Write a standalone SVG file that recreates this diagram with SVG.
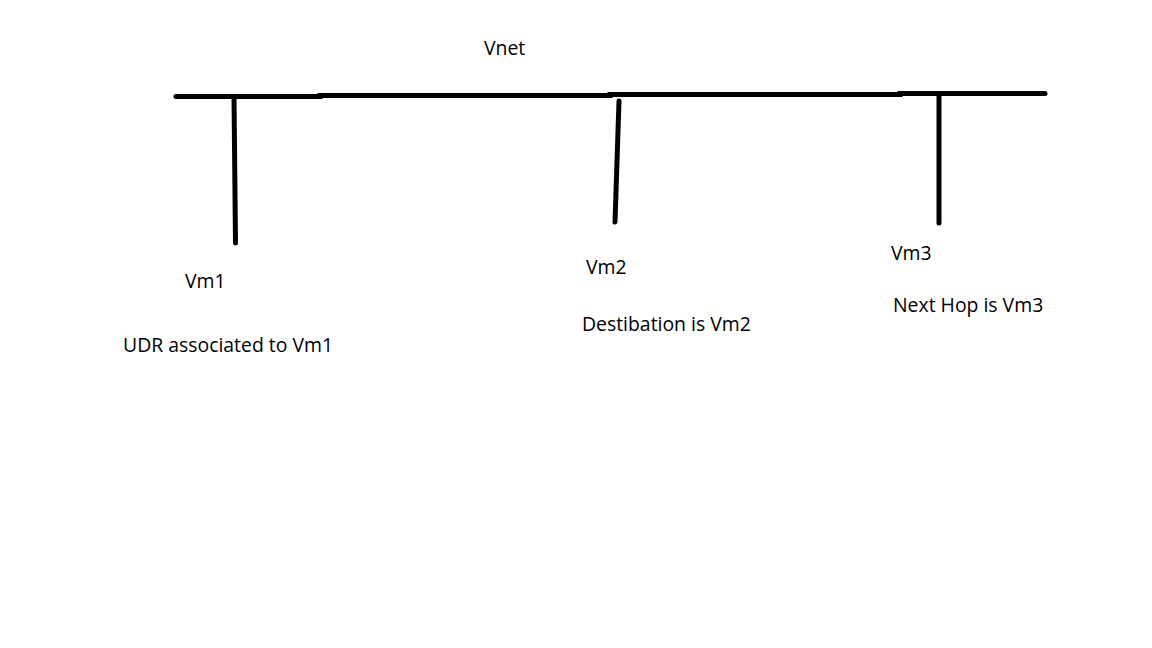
<svg xmlns="http://www.w3.org/2000/svg" width="1152" height="648" viewBox="0 0 1152 648">
<style>
.ln{stroke:#000;stroke-width:5;stroke-linecap:round;fill:none}
.t{font-family:"Open Sans","Noto Sans",sans-serif;font-size:19.4px;fill:#000}
</style>
<rect width="1152" height="648" fill="#fff"/>
<g id="connectors">
<polyline class="ln" points="176,96.5 320,96.5 320,95.5 610,95.5 610,94.5 900,94.5 900,93.5 1045,93.5" stroke-linecap="butt"/>
<line class="ln" x1="234" y1="97" x2="235.5" y2="243"/>
<line class="ln" x1="619" y1="101" x2="615" y2="222"/>
<line class="ln" x1="939" y1="95" x2="939" y2="223"/>
</g>
<g id="vnet"><text class="t" x="484" y="55">Vnet</text></g>
<g id="vm1">
<text class="t" x="185" y="288">Vm1</text>
<text class="t" x="123" y="352">UDR associated to Vm1</text>
</g>
<g id="vm2">
<text class="t" x="586" y="274">Vm2</text>
<text class="t" x="582" y="331">Destibation is Vm2</text>
</g>
<g id="vm3">
<text class="t" x="891" y="260">Vm3</text>
<text class="t" x="893" y="312">Next Hop is Vm3</text>
</g>
</svg>
